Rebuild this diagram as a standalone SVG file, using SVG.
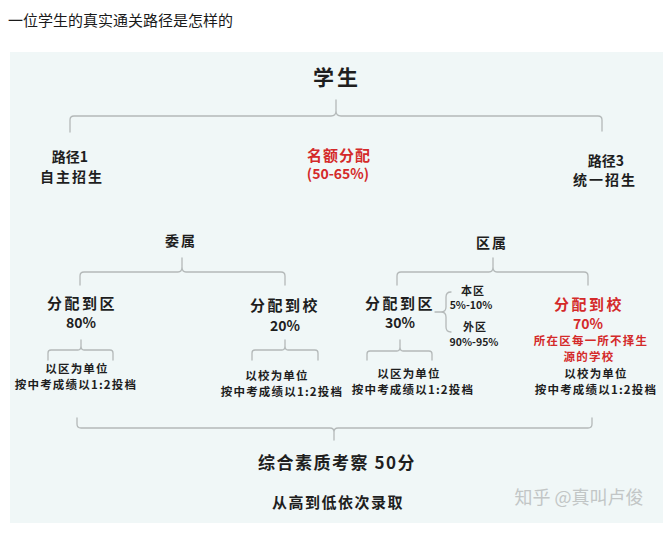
<svg xmlns="http://www.w3.org/2000/svg" width="669" height="543" viewBox="0 0 669 543">
<style>
.t{font-family:"Noto Sans CJK SC","Noto Sans",sans-serif;font-weight:700;fill:#1e1e1e;text-anchor:middle}
.r{fill:#d42a2a}
.s{font-size:11.5px;letter-spacing:1.2px}
.m{font-size:14px;letter-spacing:2px}
.n{font-size:14px}
.c{fill:none;stroke:#b4b9b9;stroke-width:1.3;stroke-linecap:round;stroke-linejoin:round}
</style>
<rect x="0" y="0" width="669" height="543" fill="#ffffff"/>
<text x="8" y="26" style="font-family:'Noto Sans CJK SC',sans-serif;font-size:15px;fill:#1a1a1a">一位学生的真实通关路径是怎样的</text>
<rect x="10" y="52" width="653" height="471" fill="#f0f7f7"/>

<g id="connectors" class="c">
<path d="M70 132 V120 Q70 116 74 116 H331 Q336 116 336 111 V100 M336 111 Q336 116 341 116 H598 Q602 116 602 120 V131"/>
<path d="M80 285 V276 Q80 272 84 272 H178 Q182 272 182 267 V258 M182 267 Q182 272 186 272 H281 Q285 272 285 276 V285"/>
<path d="M397 285 V276 Q397 272 401 272 H489 Q493 272 493 267 V258 M493 267 Q493 272 497 272 H584 Q588 272 588 276 V285"/>
<path d="M48 360 V353 Q48 350 51 350 H78 Q81 350 81 346 V340 M81 346 Q81 350 84 350 H110 Q113 350 113 353 V360"/>
<path d="M252 360 V353 Q252 350 255 350 H282 Q285 350 285 346 V340 M285 346 Q285 350 288 350 H315 Q318 350 318 353 V360"/>
<path d="M367 360 V354 Q367 351 370 351 H397 Q400 351 400 347 V340 M400 347 Q400 351 403 351 H429 Q432 351 432 354 V360"/>
<path d="M451 292 Q446 292 446 297 V307 Q446 312 441 312 H435 M441 312 Q446 312 446 317 V327 Q446 332 451 332"/>
<path d="M77 418 V424 Q77 428 81 428 H330 Q334 428 334 432 V440 M334 432 Q334 428 338 428 H588 Q592 428 592 424 V418"/>
</g>

<g id="student"><text class="t" x="337" y="85" style="font-size:21px;letter-spacing:3px">学生</text></g>
<g id="path1">
<text class="t n" x="70" y="162">路径1</text>
<text class="t m" x="72" y="182">自主招生</text>
</g>
<g id="quota">
<text class="t r" x="339" y="161" style="font-size:15px;letter-spacing:1px">名额分配</text>
<text class="t r n" x="338" y="179">(50-65%)</text>
</g>
<g id="path3">
<text class="t n" x="606" y="166">路径3</text>
<text class="t m" x="605" y="185">统一招生</text>
</g>
<g id="weishu"><text class="t m" x="181" y="246">委属</text></g>
<g id="wei-district">
<text class="t" x="82" y="309" style="font-size:15px;letter-spacing:2.5px">分配到区</text>
<text class="t n" x="81" y="328">80%</text>
</g>
<g id="wei-school">
<text class="t" x="285" y="311" style="font-size:15px;letter-spacing:2.5px">分配到校</text>
<text class="t n" x="285" y="331">20%</text>
</g>
<g id="wei-district-note">
<text class="t s" x="77" y="373">以区为单位</text>
<text class="t s" x="76" y="389">按中考成绩以1:2投档</text>
</g>
<g id="wei-school-note">
<text class="t s" x="277" y="380">以校为单位</text>
<text class="t s" x="282" y="396">按中考成绩以1:2投档</text>
</g>
<g id="qushu"><text class="t m" x="492" y="248">区属</text></g>
<g id="qu-district">
<text class="t" x="400" y="309" style="font-size:15px;letter-spacing:2.5px">分配到区</text>
<text class="t n" x="400" y="328">30%</text>
</g>
<g id="local">
<text class="t" x="473" y="295" style="font-size:11px;letter-spacing:1px">本区</text>
<text class="t" x="471" y="309" style="font-size:10.5px">5%-10%</text>
</g>
<g id="outer">
<text class="t" x="475" y="331" style="font-size:11px;letter-spacing:1px">外区</text>
<text class="t" x="474" y="346" style="font-size:10.5px">90%-95%</text>
</g>
<g id="qu-school">
<text class="t r" x="589" y="310" style="font-size:15px;letter-spacing:2.5px">分配到校</text>
<text class="t r n" x="588" y="329">70%</text>
<text class="t r s" x="591" y="345">所在区每一所不择生</text>
<text class="t r s" x="589" y="361">源的学校</text>
</g>
<g id="qu-district-note">
<text class="t s" x="409" y="378">以区为单位</text>
<text class="t s" x="413" y="394">按中考成绩以1:2投档</text>
</g>
<g id="qu-school-note">
<text class="t s" x="596" y="378">以校为单位</text>
<text class="t s" x="596" y="394">按中考成绩以1:2投档</text>
</g>
<g id="quality"><text class="t" x="337" y="469" style="font-size:17px;letter-spacing:1.5px">综合素质考察 50分</text></g>
<g id="admit"><text class="t" x="338" y="508" style="font-size:15px;letter-spacing:1.5px">从高到低依次录取</text></g>
<text x="579" y="504" style="font-family:'Noto Sans CJK SC',sans-serif;font-size:18px;fill:#c2c6c6;text-anchor:middle">知乎 @真叫卢俊</text>
</svg>
